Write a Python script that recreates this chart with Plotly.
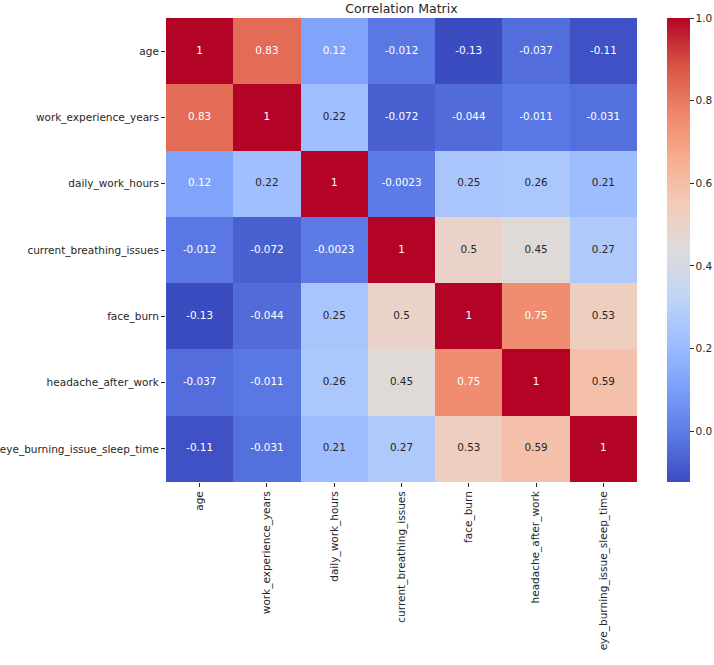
import plotly.graph_objects as go

labels = ["age", "work_experience_years", "daily_work_hours", "current_breathing_issues",
          "face_burn", "headache_after_work", "eye_burning_issue_sleep_time"]

row_age = [1, 0.83, 0.12, -0.012, -0.13, -0.037, -0.11]
row_work_exp = [0.83, 1, 0.22, -0.072, -0.044, -0.011, -0.031]
row_daily = [0.12, 0.22, 1, -0.0023, 0.25, 0.26, 0.21]
row_breath = [-0.012, -0.072, -0.0023, 1, 0.5, 0.45, 0.27]
row_face = [-0.13, -0.044, 0.25, 0.5, 1, 0.75, 0.53]
row_headache = [-0.037, -0.011, 0.26, 0.45, 0.75, 1, 0.59]
row_eye = [-0.11, -0.031, 0.21, 0.27, 0.53, 0.59, 1]

z = [row_age, row_work_exp, row_daily, row_breath, row_face, row_headache, row_eye]

ZMIN, ZMAX = -0.123, 1.0

coolwarm_hex = ["#3b4cc0", "#5a78e4", "#7b9ff9", "#9ebeff", "#c0d4f5", "#dddcdc",
                "#f2cbb7", "#f7ac8e", "#ee8468", "#d65244", "#b40426"]
colorscale = [[i / 10, c] for i, c in enumerate(coolwarm_hex)]


def hex2rgb(h):
    return tuple(int(h[i:i + 2], 16) for i in (1, 3, 5))


def cmap(v):
    t = (v - ZMIN) / (ZMAX - ZMIN)
    t = min(max(t, 0), 1)
    i = min(int(t * 10), 9)
    f = t * 10 - i
    a, b = hex2rgb(coolwarm_hex[i]), hex2rgb(coolwarm_hex[i + 1])
    return [a[k] + (b[k] - a[k]) * f for k in range(3)]


def lum(rgb):
    out = []
    for c in rgb:
        c = c / 255
        out.append(c / 12.92 if c <= 0.03928 else ((c + 0.055) / 1.055) ** 2.4)
    return 0.2126 * out[0] + 0.7152 * out[1] + 0.0722 * out[2]


tx, ty, tt, tc = [], [], [], []
for r, row in enumerate(z):
    for c, v in enumerate(row):
        tx.append(labels[c])
        ty.append(labels[r])
        tt.append(format(v, ".2g"))
        tc.append("#262626" if lum(cmap(v)) > 0.408 else "white")

font = "DejaVu Sans"

fig = go.Figure()
fig.add_trace(go.Heatmap(
    z=z, x=labels, y=labels, colorscale=colorscale, zmin=ZMIN, zmax=ZMAX,
    hoverongaps=False,
    colorbar=dict(
        thickness=23, thicknessmode="pixels", len=1, lenmode="fraction",
        x=1.0637, xanchor="left", xpad=0, y=0.5, yanchor="middle", ypad=0,
        outlinewidth=0, tickmode="array", tickvals=[0, 0.2, 0.4, 0.6, 0.8, 1.0],
        ticktext=["0.0", "0.2", "0.4", "0.6", "0.8", "1.0"],
        ticks="outside", ticklen=4, tickwidth=1, tickcolor="#262626",
        tickfont=dict(family=font, size=10.5, color="#262626"),
    ),
))
fig.add_trace(go.Scatter(
    x=tx, y=ty, text=tt, mode="text",
    textfont=dict(family=font, size=10.4, color=tc),
    hoverinfo="skip", showlegend=False,
))

fig.update_layout(
    width=714, height=665,
    margin=dict(l=166, r=77, t=18, b=183, autoexpand=False),
    paper_bgcolor="white", plot_bgcolor="white",
    title=dict(text="Correlation Matrix", x=(166 + 637) / 2 / 714, xanchor="center",
               y=1 - 9 / 665, yanchor="middle",
               font=dict(family=font, size=12.5, color="#262626")),
    font=dict(family=font, color="#262626"),
    showlegend=False,
)
fig.update_xaxes(type="category", tickangle=-90, ticks="outside", ticklen=4, tickwidth=1,
                 tickcolor="#262626", tickfont=dict(family=font, size=10.5, color="#262626"),
                 showgrid=False, zeroline=False, showline=False)
fig.update_yaxes(type="category", autorange="reversed", ticks="outside", ticklen=4,
                 tickwidth=1, tickcolor="#262626",
                 tickfont=dict(family=font, size=10.5, color="#262626"),
                 showgrid=False, zeroline=False, showline=False)

fig.write_html("out.html")
